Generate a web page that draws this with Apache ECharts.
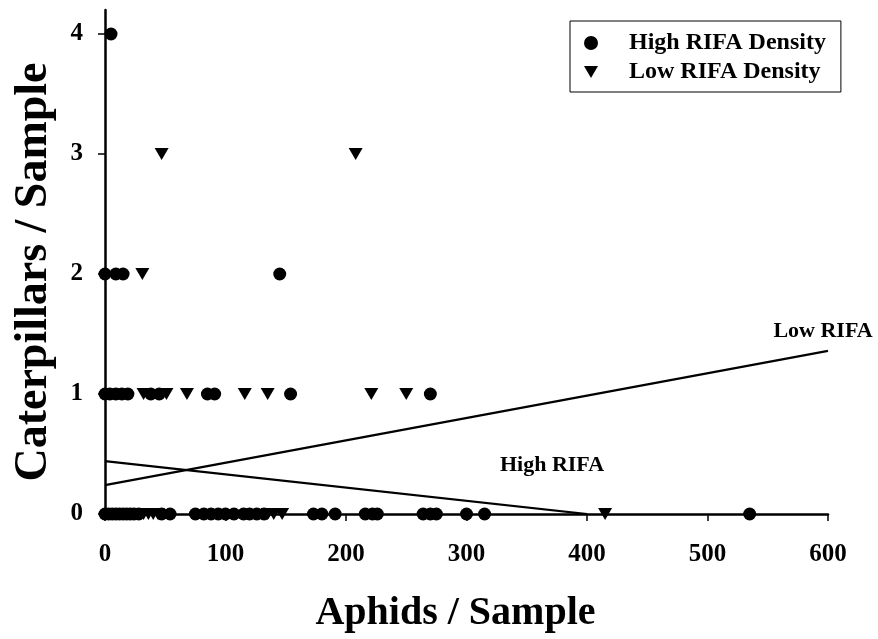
<!DOCTYPE html>
<html>
<head>
<meta charset="utf-8">
<script src="https://cdn.jsdelivr.net/npm/echarts@6/dist/echarts.min.js"></script>
<style>
html, body { margin: 0; padding: 0; background: #fff; }
#main { width: 878px; height: 639px; }
</style>
</head>
<body>
<div id="main"></div>
<script>
// aphids per sample for each caterpillar count (0..4)
var highX0 = [0, 3, 6, 9, 12, 15, 18, 21, 24, 28, 47, 54, 75, 82, 88, 94, 100, 107, 115, 120, 126, 132, 173, 180, 191, 216, 222, 226, 264, 270, 275, 300, 315, 535];
var highX1 = [0, 4, 9, 14, 19, 38, 45, 85, 91, 154, 270];
var highX2 = [0, 9, 15, 145];
var highX4 = [5];
var lowX0 = [8, 17, 25, 32, 36, 40, 44, 135, 140, 147, 415];
var lowX1 = [32, 51, 68, 116, 135, 221, 250];
var lowX2 = [31];
var lowX3 = [47, 208];

// regression lines (end points)
var lowLine = [[0, 0.24], [600, 1.36]];
var highLine = [[0, 0.44], [400, 0]];

var xTicks = [0, 100, 200, 300, 400, 500, 600];
var yTicks = [0, 1, 2, 3, 4];

function pts(list, y) {
	return list.map(function (x) { return [x, y]; });
}
var highData = [].concat(pts(highX0, 0), pts(highX1, 1), pts(highX2, 2), pts(highX4, 4));
var lowData = [].concat(pts(lowX0, 0), pts(lowX1, 1), pts(lowX2, 2), pts(lowX3, 3));

var font = 'Liberation Serif';
var downTri = 'path://M0,0 L14,0 L7,12 Z';
var chart = echarts.init(document.getElementById('main'));

function lineLabel(text, point, offset) {
	return {
		symbol: 'circle',
		symbolSize: 0,
		data: [{ coord: point, value: text }],
		label: {
			show: true,
			position: 'top',
			offset: offset,
			fontFamily: font, fontWeight: 'bold', fontSize: 22, color: '#000',
			formatter: '{c}'
		}
	};
}

var option = {
	animation: false,
	backgroundColor: '#fff',
	grid: { left: 105, right: 50, top: 10, bottom: 125 },
	legend: {
		orient: 'vertical',
		left: 570,
		top: 21,
		padding: [9, 15, 7, 14],
		itemGap: 3,
		itemWidth: 14,
		itemHeight: 14,
		borderColor: '#000',
		borderWidth: 1,
		textStyle: { fontFamily: font, fontWeight: 'bold', fontSize: 24, color: '#000', lineHeight: 26, padding: [0, 0, 0, 26] },
		data: [
			{ name: 'High RIFA Density', icon: 'circle' },
			{ name: 'Low RIFA Density', icon: downTri }
		]
	},
	xAxis: {
		type: 'value',
		min: 0, max: 600, interval: 100,
		name: 'Aphids / Sample',
		nameLocation: 'middle',
		nameGap: 80,
		nameTextStyle: { fontFamily: font, fontWeight: 'bold', fontSize: 40, color: '#000', padding: [0, 22, 0, 0] },
		axisLine: { lineStyle: { color: '#000', width: 2.5 } },
		axisTick: { show: true, length: 7, lineStyle: { color: '#000', width: 1.5 } },
		axisLabel: { customValues: xTicks, margin: 28, fontFamily: font, fontWeight: 'bold', fontSize: 25, color: '#000' },
		splitLine: { show: false }
	},
	yAxis: {
		type: 'value',
		min: 0, max: 4.2,
		name: 'Caterpillars / Sample',
		nameLocation: 'middle',
		nameGap: 48,
		nameTextStyle: { fontFamily: font, fontWeight: 'bold', fontSize: 46, color: '#000', padding: [0, 20, 0, 0] },
		axisLine: { show: true, lineStyle: { color: '#000', width: 2.5 } },
		axisTick: { show: true, length: 7, customValues: yTicks, lineStyle: { color: '#000', width: 1.5 } },
		axisLabel: { customValues: yTicks, margin: 22, fontFamily: font, fontWeight: 'bold', fontSize: 25, color: '#000' },
		splitLine: { show: false }
	},
	series: [{
		name: 'High RIFA Density',
		type: 'scatter',
		symbol: 'circle',
		symbolSize: 13,
		itemStyle: { color: '#000', opacity: 1 },
		data: highData,
		z: 5
	}, {
		name: 'Low RIFA Density',
		type: 'scatter',
		symbol: 'triangle',
		symbolRotate: 180,
		symbolSize: [14, 12],
		itemStyle: { color: '#000', opacity: 1 },
		data: lowData,
		z: 5
	}, {
		name: 'Low RIFA',
		type: 'line',
		data: lowLine,
		showSymbol: false,
		symbol: 'none',
		lineStyle: { color: '#000', width: 2.2 },
		markPoint: lineLabel('Low RIFA', lowLine[1], [-5, -3]),
		z: 3
	}, {
		name: 'High RIFA',
		type: 'line',
		data: highLine,
		showSymbol: false,
		symbol: 'none',
		lineStyle: { color: '#000', width: 2.2 },
		markPoint: lineLabel('High RIFA', highLine[1], [-35, -33]),
		z: 3
	}]
};
chart.setOption(option);
</script>
</body>
</html>
